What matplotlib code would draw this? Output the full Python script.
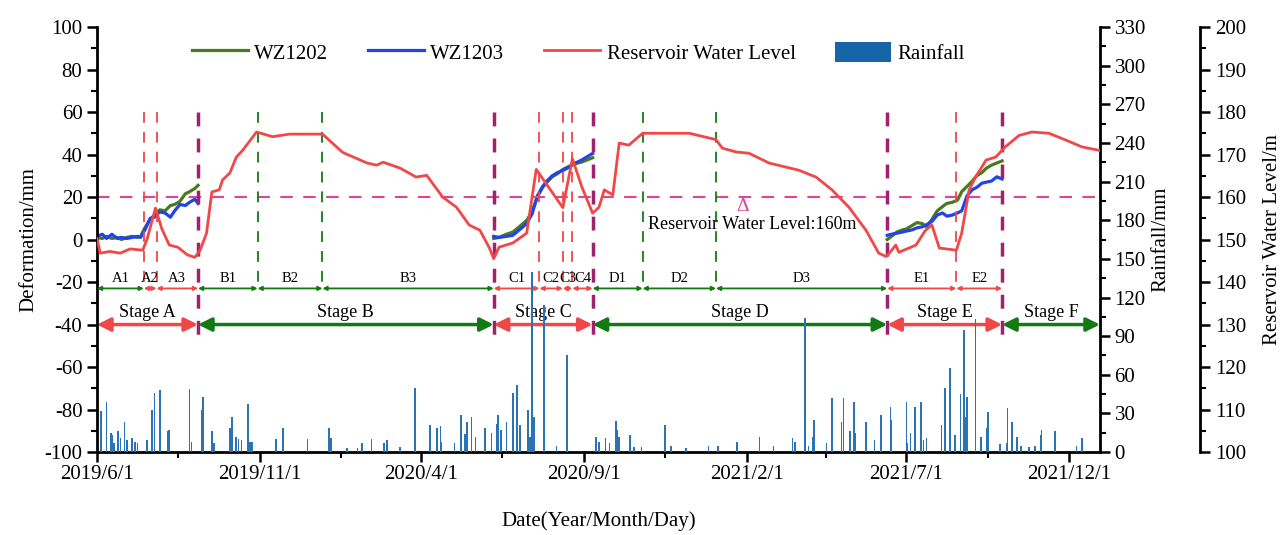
import numpy as np
import matplotlib
matplotlib.use('Agg')
import matplotlib.pyplot as plt
import matplotlib.dates as mdates
from matplotlib.ticker import MultipleLocator, FixedLocator, FixedFormatter
from matplotlib.lines import Line2D
from matplotlib.patches import Patch

plt.rcParams['font.family'] = ['Liberation Serif', 'DejaVu Serif']
plt.rcParams['axes.unicode_minus'] = False

# Reservoir water level (m)
res_dates = ['2019-06-01', '2019-06-04', '2019-06-13', '2019-06-23', '2019-07-02', '2019-07-14',
             '2019-07-18', '2019-07-26', '2019-08-01', '2019-08-08', '2019-08-16', '2019-08-25',
             '2019-09-01', '2019-09-06', '2019-09-12', '2019-09-17', '2019-09-24', '2019-09-27',
             '2019-10-04', '2019-10-10', '2019-10-16', '2019-10-29', '2019-11-13', '2019-11-29',
             '2019-12-30', '2020-01-18', '2020-02-10', '2020-02-19', '2020-02-25', '2020-03-12',
             '2020-03-27', '2020-04-06', '2020-04-21', '2020-05-04', '2020-05-16', '2020-05-26',
             '2020-06-04', '2020-06-08', '2020-06-13', '2020-06-26', '2020-07-09', '2020-07-18',
             '2020-08-12', '2020-08-21', '2020-08-30', '2020-09-09', '2020-09-15', '2020-09-20',
             '2020-09-28', '2020-10-04', '2020-10-13', '2020-10-26', '2020-12-09', '2021-01-03',
             '2021-01-09', '2021-01-22', '2021-02-03', '2021-02-22', '2021-03-22', '2021-04-07',
             '2021-04-22', '2021-05-08', '2021-05-24', '2021-06-05', '2021-06-12', '2021-06-15',
             '2021-06-21', '2021-06-24', '2021-07-10', '2021-07-19', '2021-07-25', '2021-08-01',
             '2021-08-17', '2021-08-22', '2021-08-29', '2021-09-04', '2021-09-14', '2021-09-23',
             '2021-10-02', '2021-10-15', '2021-10-27', '2021-11-12', '2021-11-28', '2021-12-13',
             '2021-12-29']
res_level = [150.3, 146.8, 147.2, 146.8, 147.8, 147.5, 150, 157.4, 152.5, 148.7,
             148.2, 146.4, 145.8, 147.5, 151.5, 161.2, 161.7, 164, 165.7, 169.4,
             171, 175.3, 174.2, 174.8, 174.8, 170.5, 168, 167.5, 168.2, 166.8,
             164.7, 165.1, 160, 157.6, 153.4, 152.2, 148, 145.5, 148.2, 149.2,
             151.5, 166.5, 157.5, 169, 162.3, 156.2, 157.6, 161.7, 160.5, 172.7,
             172.2, 175, 175, 173.5, 171.5, 170.6, 170.3, 168, 166.3, 164.7,
             161.7, 157.6, 152.2, 146.8, 146, 146.8, 148.7, 147, 148.7, 152.2,
             153.4, 148, 147.5, 151.5, 161.7, 164.7, 168.7, 169.4, 171.8, 174.5,
             175.3, 175, 173.4, 171.8, 171]

# Deformation (mm), stage A / C / E
a_dates = ['2019-06-01', '2019-06-06', '2019-06-10', '2019-06-15', '2019-06-20', '2019-06-24',
           '2019-06-29', '2019-07-04', '2019-07-09', '2019-07-12', '2019-07-16', '2019-07-21',
           '2019-07-25', '2019-07-30', '2019-08-04', '2019-08-09', '2019-08-13', '2019-08-18',
           '2019-08-23', '2019-08-27', '2019-09-01', '2019-09-04']
wz1202_a = [1.0, 0.5, 1.5, 0.5, 1.0, 0.0, 1.0, 1.5, 1.0, 1.5, 5.5, 9.5, 11.5, 14.0, 13.5,
            16.0, 16.5, 18.0, 21.5, 22.5, 24.0, 25.5]
wz1203_a = [1.5, 2.5, 0.5, 2.5, 0.5, 1.0, 0.5, 1.0, 1.5, 1.0, 4.5, 10.0, 10.5, 13.0, 12.5,
            10.5, 13.5, 16.5, 16.0, 17.5, 19.0, 17.0]

c_dates = ['2020-06-08', '2020-06-13', '2020-06-20', '2020-06-26', '2020-07-02', '2020-07-09',
           '2020-07-14', '2020-07-19', '2020-07-24', '2020-07-29', '2020-08-02', '2020-08-07',
           '2020-08-12', '2020-08-16', '2020-08-21', '2020-08-26', '2020-08-30', '2020-09-04',
           '2020-09-09']
wz1202_c = [0.5, 1.0, 2.5, 3.5, 6.0, 9.0, 13.0, 20.0, 24.5, 27.5, 29.5, 31.0, 33.0, 34.0,
            35.0, 36.0, 36.5, 37.5, 38.5]
wz1203_c = [1.5, 1.0, 1.5, 2.0, 4.5, 7.5, 12.0, 20.5, 25.0, 28.0, 30.0, 31.5, 32.5, 33.5,
            35.5, 36.5, 37.5, 39.0, 40.5]

e_dates = ['2021-06-13', '2021-06-17', '2021-06-22', '2021-06-27', '2021-07-01', '2021-07-06',
           '2021-07-11', '2021-07-16', '2021-07-20', '2021-07-25', '2021-07-30', '2021-08-04',
           '2021-08-08', '2021-08-13', '2021-08-18', '2021-08-22', '2021-08-27', '2021-09-01',
           '2021-09-05', '2021-09-10', '2021-09-14', '2021-09-19', '2021-09-24', '2021-09-29']
wz1202_e = [0.0, 1.5, 3.5, 4.5, 5.0, 6.5, 8.0, 7.5, 6.0, 9.5, 13.5, 15.5, 17.0, 17.5, 18.5,
            22.5, 25.0, 27.5, 30.0, 31.5, 33.5, 35.0, 36.0, 37.0]
wz1203_e = [2.0, 2.5, 3.0, 3.5, 4.0, 4.5, 5.5, 6.0, 7.0, 8.5, 11.5, 12.5, 11.0, 11.5, 12.5,
            13.5, 20.5, 23.5, 24.5, 26.5, 27.0, 27.5, 29.5, 28.5]

# Daily rainfall (mm), days after 2019-06-01
rain_start = '2019-06-01'
rain_day = [4, 9, 13, 14, 16, 20, 22, 26, 28, 33, 36, 38, 47, 52, 54, 59, 67, 68, 87, 89,
            99, 100, 108, 110, 125, 127, 131, 133, 136, 142, 144, 146, 168, 175, 198, 218, 220,
            235, 245, 249, 258, 270, 273, 285, 299, 313, 320, 323, 324, 336, 342, 346, 348, 352,
            356, 365, 371, 376, 377, 380, 385, 391, 395, 398, 405, 407, 409, 411, 420, 432, 442,
            469, 472, 478, 482, 488, 489, 491, 501, 505, 512, 534, 540, 554, 575, 584, 602, 623,
            636, 654, 656, 666, 669, 673, 674, 686, 691, 700, 702, 708, 712, 713, 723, 731, 737,
            746, 747, 761, 762, 765, 769, 775, 777, 780, 794, 797, 802, 807, 812, 815, 816, 818,
            826, 831, 837, 838, 849, 855, 856, 860, 865, 869, 876, 882, 887, 888, 901, 921, 926]
rain_mm = [32, 39, 15, 13, 7, 16, 11, 23, 9, 11, 8, 7, 9, 33, 46, 48, 16, 17, 49, 8,
           33, 43, 16, 7, 19, 27, 12, 10, 9, 37, 8, 8, 10, 19, 10, 19, 11,
           3, 3, 7, 10, 7, 9, 4, 50, 21, 19, 20, 8, 7, 29, 14, 23, 27,
           12, 19, 15, 22, 29, 17, 23, 46, 52, 21, 33, 12, 140, 27, 114, 5, 75,
           12, 8, 11, 7, 24, 17, 12, 13, 4, 4, 21, 5, 3, 5, 5, 8, 12,
           5, 11, 8, 104, 5, 12, 25, 7, 42, 23, 42, 16, 39, 15, 23, 9, 29,
           35, 25, 39, 7, 15, 35, 39, 9, 11, 21, 50, 65, 13, 45, 95, 27, 43,
           103, 12, 19, 31, 6, 7, 34, 23, 12, 5, 4, 5, 13, 17, 16, 5, 11]

# Stages and sub-stages
stage_names = ['Stage A', 'Stage B', 'Stage C', 'Stage D', 'Stage E', 'Stage F']
stage_edges = ['2019-06-01', '2019-09-04', '2020-06-08', '2020-09-09', '2021-06-13',
               '2021-09-29', '2021-12-30']
stage_red = [True, False, True, False, True, False]

sub_names = ['A1', 'A2', 'A3', 'B1', 'B2', 'B3', 'C1', 'C2', 'C3', 'C4', 'D1', 'D2', 'D3',
             'E1', 'E2']
sub_edges = ['2019-06-01', '2019-07-15', '2019-07-27', '2019-09-04', '2019-10-30',
             '2019-12-30', '2020-06-08', '2020-07-21', '2020-08-12', '2020-08-21',
             '2020-09-09', '2020-10-26', '2021-01-03', '2021-06-13', '2021-08-17',
             '2021-09-29']
sub_red = [False, True, True, False, False, False, True, True, True, True,
           False, False, False, True, True]

x_ticks = ['2019-06-01', '2019-11-01', '2020-04-01', '2020-09-01', '2021-02-01',
           '2021-07-01', '2021-12-01']
x_labels = ['2019/6/1', '2019/11/1', '2020/4/1', '2020/9/1', '2021/2/1', '2021/7/1',
            '2021/12/1']
x_minor = ['2019-08-16', '2020-01-16', '2020-06-16', '2020-11-16', '2021-04-16',
           '2021-09-16']

RED = '#f04848'
GREEN = '#127a12'
PURPLE = '#a0226e'
MAGENTA = '#e0449a'
C1202 = '#4a7a1c'
C1203 = '#2343e6'
RAIN = '#2a74b5'


def dn(s):
    return mdates.date2num(np.datetime64(s))


fig = plt.figure(figsize=(12.88, 5.35), dpi=100)
ax = fig.add_axes([0.0753, 0.155, 0.854 - 0.0753, 0.9495 - 0.155])
ax2 = ax.twinx()
ax3 = ax.twinx()

# deformation curves
for d, g, b in [(a_dates, wz1202_a, wz1203_a), (c_dates, wz1202_c, wz1203_c),
                (e_dates, wz1202_e, wz1203_e)]:
    dd = np.array(d, dtype='datetime64[D]')
    ax.plot(dd, g, color=C1202, lw=2.3)
    ax.plot(dd, b, color=C1203, lw=2.3)

ax.set_xlim(dn('2019-06-01'), dn('2021-12-30'))
ax.set_ylim(-100, 100)

# 160 m level line
ax.axhline(20, color=MAGENTA, lw=1.5, ls=(0, (6, 5)))
ax.text(dn('2021-01-28'), 15.5, 'Δ', color=MAGENTA, fontsize=14, ha='center', va='center')
ax.text(dn('2021-02-06'), 7, 'Reservoir Water Level:160m', fontsize=13, ha='center',
        va='center')

# stage boundary lines
for e in stage_edges[1:-1]:
    ax.plot([dn(e), dn(e)], [60, -50], color=PURPLE, lw=2.5, ls=(0, (4, 3.5)))

# sub-stage divider lines
for i in range(1, len(sub_edges) - 1):
    if sub_edges[i] in stage_edges:
        continue
    col = RED if sub_red[i] else GREEN
    ax.plot([dn(sub_edges[i]), dn(sub_edges[i])], [60, -23], color=col, lw=1.3,
            ls=(0, (6, 5)))

# sub-stage arrows and labels
for i, name in enumerate(sub_names):
    x0, x1 = dn(sub_edges[i]), dn(sub_edges[i + 1])
    col = RED if sub_red[i] else GREEN
    ax.annotate('', xy=(x1, -23), xytext=(x0, -23),
                arrowprops=dict(arrowstyle='<|-|>', color=col, lw=1.3, mutation_scale=6,
                                shrinkA=0, shrinkB=0))
    ax.text((x0 + x1) / 2, -18.5, name, fontsize=10.5, ha='center', va='center')

# stage arrows and labels
for i, name in enumerate(stage_names):
    x0, x1 = dn(stage_edges[i]), dn(stage_edges[i + 1])
    col = RED if stage_red[i] else GREEN
    ax.annotate('', xy=(x1, -40), xytext=(x0, -40),
                arrowprops=dict(arrowstyle='<|-|>', color=col, lw=2.5, mutation_scale=20,
                                shrinkA=0, shrinkB=0))
    ax.text((x0 + x1) / 2, -34.5, name, fontsize=13, ha='center', va='center')

# rainfall bars
rd = np.datetime64(rain_start) + np.array(rain_day).astype('timedelta64[D]')
ax2.bar(rd, rain_mm, width=1.6, color=RAIN, linewidth=0)
ax2.set_ylim(0, 330)

# reservoir level
ax3.plot(np.array(res_dates, dtype='datetime64[D]'), res_level, color=RED, lw=2)
ax3.set_ylim(100, 200)
ax.set_xlim(dn('2019-06-01'), dn('2021-12-30'))

# axes styling
for a in (ax, ax2, ax3):
    a.spines['top'].set_visible(False)
    for s in a.spines.values():
        s.set_linewidth(2)
ax.spines['right'].set_visible(False)
ax2.spines['left'].set_visible(False)
ax2.spines['bottom'].set_visible(False)
ax3.spines['left'].set_visible(False)
ax3.spines['bottom'].set_visible(False)
ax3.spines['right'].set_position(('axes', 1.1))

ax.xaxis.set_major_locator(FixedLocator([dn(t) for t in x_ticks]))
ax.xaxis.set_major_formatter(FixedFormatter(x_labels))
ax.xaxis.set_minor_locator(FixedLocator([dn(t) for t in x_minor]))

ax.yaxis.set_major_locator(MultipleLocator(20))
ax.yaxis.set_minor_locator(MultipleLocator(10))
ax2.yaxis.set_major_locator(MultipleLocator(30))
ax2.yaxis.set_minor_locator(MultipleLocator(15))
ax3.yaxis.set_major_locator(MultipleLocator(10))
ax3.yaxis.set_minor_locator(MultipleLocator(5))

for a in (ax, ax2, ax3):
    a.tick_params(which='major', direction='out', length=7, width=1.8, labelsize=15)
    a.tick_params(which='minor', direction='out', length=4, width=1.5)
ax.tick_params(axis='x', pad=2)

ax.set_ylabel('Deformation/mm', fontsize=15, labelpad=4)
ax.set_xlabel('Date(Year/Month/Day)', fontsize=15, labelpad=20)
ax2.set_ylabel('Rainfall/mm', fontsize=15, labelpad=4)
ax3.set_ylabel('Reservoir Water Level/m', fontsize=15, labelpad=12)

handles = [Line2D([0], [0], color=C1202, lw=2.3),
           Line2D([0], [0], color=C1203, lw=2.3),
           Line2D([0], [0], color=RED, lw=2),
           Patch(facecolor='#1565a8', edgecolor='none')]
labels = ['WZ1202', 'WZ1203', 'Reservoir Water Level', 'Rainfall']
ax3.legend(handles, labels, loc='center', bbox_to_anchor=(0.48, 0.939),
           bbox_transform=ax.transAxes, ncol=4, frameon=False, fontsize=15,
           handlelength=2.7, handleheight=1.1, handletextpad=0.3, columnspacing=1.9)

fig.savefig('out.png', dpi=100)
